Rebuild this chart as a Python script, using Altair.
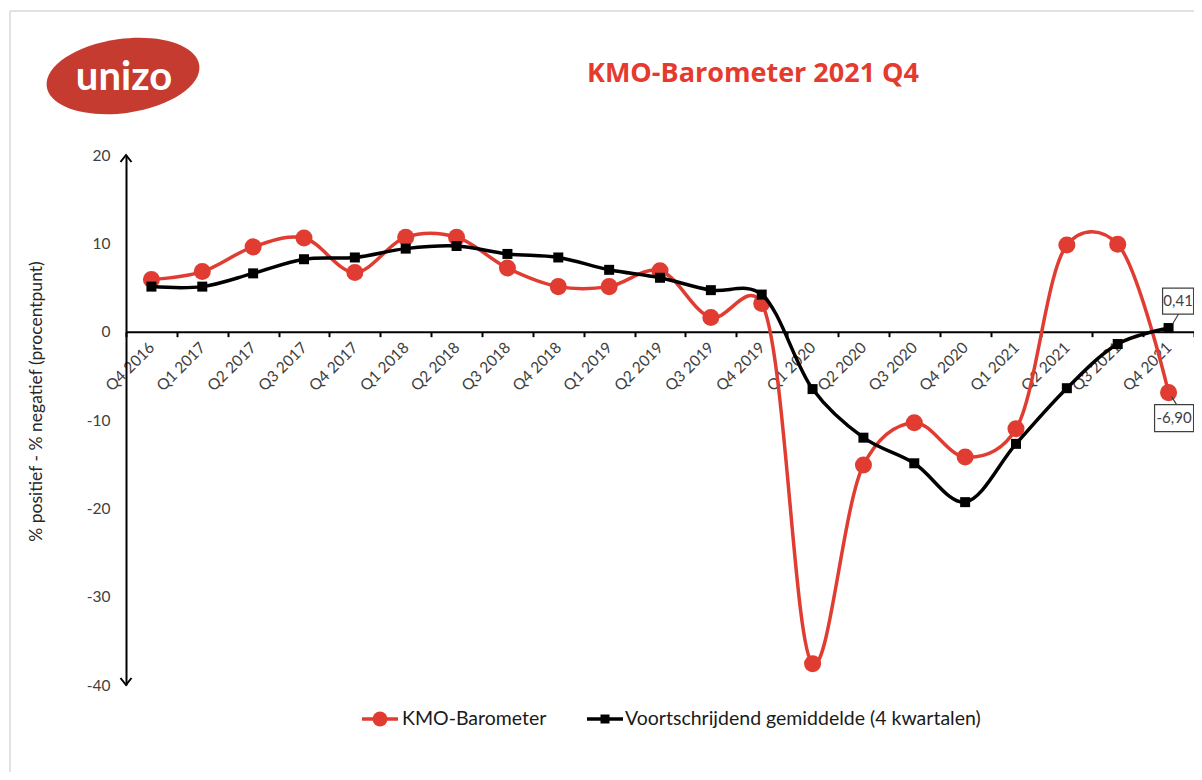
import altair as alt
import pandas as pd

quarters = ["Q4 2016", "Q1 2017", "Q2 2017", "Q3 2017", "Q4 2017", "Q1 2018", "Q2 2018",
            "Q3 2018", "Q4 2018", "Q1 2019", "Q2 2019", "Q3 2019", "Q4 2019", "Q1 2020",
            "Q2 2020", "Q3 2020", "Q4 2020", "Q1 2021", "Q2 2021", "Q3 2021", "Q4 2021"]
kmo = [5.9, 6.8, 9.6, 10.6, 6.7, 10.7, 10.7, 7.2, 5.1, 5.1, 6.9, 1.6, 3.2, -37.6,
       -15.1, -10.3, -14.2, -11.0, 9.8, 9.9, -6.90]
avg = [5.1, 5.1, 6.6, 8.2, 8.4, 9.4, 9.7, 8.8, 8.4, 7.0, 6.1, 4.7, 4.2, -6.5,
       -12.0, -14.9, -19.3, -12.7, -6.4, -1.4, 0.41]
y_ticks = [-40, -30, -20, -10, 0, 10, 20]

RED = "#E03C31"
BLACK = "#000000"
W, H = 1068, 530
Y0 = H * 20 / 60  # pixel position of 0

df = pd.DataFrame({"q": quarters, "kmo": kmo, "avg": avg})
one = pd.DataFrame({"a": [0]})

x_enc = alt.X("q:N", sort=quarters,
              scale=alt.Scale(type="band", paddingInner=0, paddingOuter=0),
              axis=alt.Axis(title=None, orient="bottom", offset=-(H - Y0),
                            labelAngle=-45, labelAlign="right", labelBaseline="middle",
                            labelFont="Lato", labelFontSize=15.5, labelColor="#404040",
                            labelPadding=8, domainColor="black", domainWidth=2,
                            tickColor="black", tickWidth=2, tickSize=5, tickBand="extent",
                            grid=False, labelOverlap=False))

y_scale = alt.Scale(domain=[-40, 20], nice=False, zero=False)

y_axis = alt.Axis(values=y_ticks, ticks=False, grid=False, domainColor="black", domainWidth=2,
                  labelFont="Lato", labelFontSize=15.5, labelColor="#404040", labelPadding=16,
                  labelFlush=False, labelOverlap=False,
                  labelExpr="replace(datum.label, '\u2212', '-')",
                  title="% positief - % negatief (procentpunt)", titleFont="Lato",
                  titleFontSize=17.5, titleFontWeight="normal", titleColor="#262626",
                  titleX=-90, titleY=246, titleAngle=270, titleAlign="center",
                  titleBaseline="middle")


def y_enc(field):
    return alt.Y(f"{field}:Q", scale=y_scale, axis=y_axis)


def fmt(field):
    return f"replace(replace(format(datum.{field}, '.2f'), '.', ','), '\u2212', '-')"


base = alt.Chart(df)
INTERP = dict(interpolate="catmull-rom", tension=0.25)

red_line = base.mark_line(color=RED, strokeWidth=3.5, **INTERP).encode(
    x=x_enc, y=y_enc("kmo"))
red_pts = base.mark_point(filled=True, opacity=1, color=RED, size=290).encode(
    x=x_enc, y=y_enc("kmo"))
blk_line = base.mark_line(color=BLACK, strokeWidth=3.5, **INTERP).encode(
    x=x_enc, y=y_enc("avg"))
blk_pts = base.mark_point(filled=True, opacity=1, color=BLACK, shape="square", size=100).encode(
    x=x_enc, y=y_enc("avg"))

last = base.transform_filter(alt.datum.q == "Q4 2021")
box_avg = last.mark_point(shape="M -6 -40 H 25 V -14 H -6 Z M 4 -4 L 10 -14", size=4,
                          filled=False, fill="white", fillOpacity=1, stroke="#404040",
                          strokeWidth=1.2, opacity=1).encode(x=x_enc, y=y_enc("avg"))
box_kmo = last.mark_point(shape="M -14 12 H 25 V 39 H -14 Z M 3 4 L 8 12", size=4,
                          filled=False, fill="white", fillOpacity=1, stroke="#404040",
                          strokeWidth=1.2, opacity=1).encode(x=x_enc, y=y_enc("kmo"))
lab_avg = last.transform_calculate(t=fmt("avg")).mark_text(
    font="Lato", fontSize=15, color="#404040", dx=9.5, dy=-27, baseline="middle").encode(
    x=x_enc, y=y_enc("avg"), text="t:N")
lab_kmo = last.transform_calculate(t=fmt("kmo")).mark_text(
    font="Lato", fontSize=15, color="#404040", dx=5.5, dy=25.5, baseline="middle").encode(
    x=x_enc, y=y_enc("kmo"), text="t:N")

deco = alt.Chart(one)
arrow_top = deco.mark_point(shape="M -5.5 7 L 0 0 L 5.5 7", size=4, filled=False,
                            stroke="black", strokeWidth=2, opacity=1).encode(
    x=alt.value(0), y=alt.value(0))
arrow_bot = deco.mark_point(shape="M -5.5 -7 L 0 0 L 5.5 -7", size=4, filled=False,
                            stroke="black", strokeWidth=2, opacity=1).encode(
    x=alt.value(0), y=alt.value(H))

frame_v = deco.mark_rule(color="#D9D9D9", strokeWidth=1.5).encode(
    x=alt.value(-116), y=alt.value(-144), y2=alt.value(H + 100))
frame_h = deco.mark_rule(color="#D9D9D9", strokeWidth=1.5).encode(
    x=alt.value(-116), x2=alt.value(W + 20), y=alt.value(-144))

logo = deco.mark_point(shape="M -77 0 A 77 37 0 1 0 77 0 A 77 37 0 1 0 -77 0 Z", size=4,
                       filled=True, color="#C63B30", opacity=1, angle=352).encode(
    x=alt.value(-3), y=alt.value(-79))
logo_txt = deco.mark_text(text="unizo", font="Lato", fontWeight="bold", fontSize=40,
                          color="white", baseline="alphabetic", align="center").encode(
    x=alt.value(-2), y=alt.value(-65))
title = deco.mark_text(text="KMO-Barometer 2021 Q4", font="Open Sans", fontWeight="bold",
                       fontSize=27, color="#E53B2F", baseline="alphabetic", align="center").encode(
    x=alt.value(627), y=alt.value(-73))

LY = 564
LFS = 19.5
leg_r_line = deco.mark_rule(color=RED, strokeWidth=3.5).encode(
    x=alt.value(236), x2=alt.value(272), y=alt.value(LY))
leg_r_pt = deco.mark_point(filled=True, color=RED, size=225, opacity=1).encode(
    x=alt.value(254), y=alt.value(LY))
leg_r_txt = deco.mark_text(text="KMO-Barometer", font="Lato", fontSize=LFS, color="#1a1a1a",
                           align="left", baseline="middle").encode(
    x=alt.value(276), y=alt.value(LY))
leg_b_line = deco.mark_rule(color=BLACK, strokeWidth=3.5).encode(
    x=alt.value(461), x2=alt.value(497), y=alt.value(LY))
leg_b_pt = deco.mark_point(filled=True, color=BLACK, shape="square", size=81, opacity=1).encode(
    x=alt.value(479), y=alt.value(LY))
leg_b_txt = deco.mark_text(text="Voortschrijdend gemiddelde (4 kwartalen)", font="Lato",
                           fontSize=LFS, color="#1a1a1a", align="left", baseline="middle").encode(
    x=alt.value(499), y=alt.value(LY))

chart = alt.layer(
    red_line, red_pts, blk_line, blk_pts,
    frame_v, frame_h,
    arrow_top, arrow_bot,
    box_avg, box_kmo, lab_avg, lab_kmo,
    logo, logo_txt, title,
    leg_r_line, leg_r_pt, leg_r_txt, leg_b_line, leg_b_pt, leg_b_txt,
).properties(
    width=W, height=H,
    autosize=alt.AutoSizeParams(type="none"),
    padding={"left": 118, "top": 147, "right": 0, "bottom": 87},
    background="white",
).configure_view(stroke=None)

chart.save("out.html", embed_options={"renderer": "svg", "actions": False})
